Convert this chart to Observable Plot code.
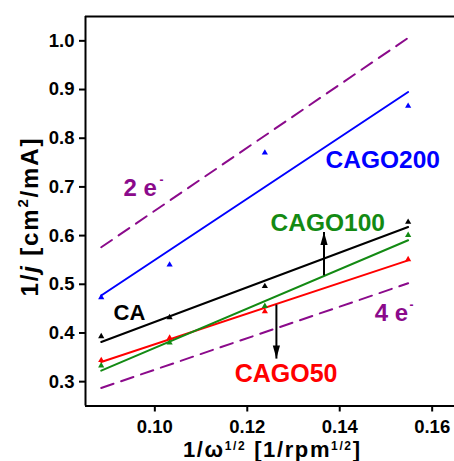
<!DOCTYPE html>
<html>
<head>
<meta charset="utf-8">
<script src="https://cdn.jsdelivr.net/npm/d3@7"></script>
<script src="https://cdn.jsdelivr.net/npm/@observablehq/plot@0.6"></script>
<style>
  html, body { margin: 0; padding: 0; background: #fff; }
  svg { display: block; }
</style>
</head>
<body>
<div id="chart"></div>
<script>
// ---- data ----
const xDomain = [0.085, 0.16483];
const yDomain = [0.25, 1.05];
const xTicks = [0.10, 0.12, 0.14, 0.16];
const yTicks = [0.3, 0.4, 0.5, 0.6, 0.7, 0.8, 0.9, 1.0];

const pointX = [0.0884, 0.1032, 0.1238, 0.1548];
const caY      = [0.393, 0.432, 0.496, 0.628];
const cago50Y  = [0.344, 0.390, 0.444, 0.551];
const cago100Y = [0.333, 0.380, 0.455, 0.601];
const cago200Y = [0.473, 0.540, 0.770, 0.866];

const fitX = [0.0884, 0.1548];
const caFit      = [0.3815, 0.6177];
const cago50Fit  = [0.3405, 0.549];
const cago100Fit = [0.3225, 0.5904];
const cago200Fit = [0.477, 0.895];
const twoEFit    = [0.576, 1.006];
const fourEFit   = [0.287, 0.502];

const seriesNames  = ["CA", "CAGO50", "CAGO100", "CAGO200"];
const seriesColors = ["#000000", "#ff0000", "#138a13", "#0000ff"];
const seriesPoints = [caY, cago50Y, cago100Y, cago200Y];
const seriesFits   = [caFit, cago50Fit, cago100Fit, cago200Fit];

// labels (data coords)
const labelText  = ["CA", "CAGO50", "CAGO100", "CAGO200"];
const labelX     = [0.0945, 0.1284, 0.1374, 0.1493];
const labelY     = [0.4414, 0.3161, 0.6253, 0.7557];
const labelSize  = [22, 25, 24.5, 24.5];

const eText = ["2 e", "4 e"];
const eX    = [0.09322, 0.14755];
const eY    = [0.6962, 0.4394];
const eSupX = [0.1010, 0.1551];
const eSupY = [0.7135, 0.4567];

// arrows
const arrowX    = [0.1366, 0.1263];
const arrowFrom = [0.5185, 0.4583];
const arrowTo   = [0.6074, 0.3474];
const arrowRot  = [0, 180];

const purple = "#8b0a8b";
const font = "'Liberation Sans', Arial, sans-serif";

// ---- build ----
const pts = [], fits = [];
seriesNames.forEach((s, i) => {
  pointX.forEach((x, j) => pts.push({s, x, y: seriesPoints[i][j]}));
  fitX.forEach((x, j) => fits.push({s, x, y: seriesFits[i][j]}));
});
const dashed = [];
fitX.forEach((x, j) => { dashed.push({s: "2e", x, y: twoEFit[j]}); dashed.push({s: "4e", x, y: fourEFit[j]}); });

const labels = labelText.map((t, i) => ({t, x: labelX[i], y: labelY[i], size: labelSize[i], c: seriesColors[i]}));
const eLabels = eText.map((t, i) => ({t, x: eX[i], y: eY[i], sx: eSupX[i], sy: eSupY[i]}));
const arrows = arrowX.map((x, i) => ({x, y1: arrowFrom[i], y2: arrowTo[i], rot: arrowRot[i]}));

const head = {draw(ctx) { ctx.moveTo(0, 0); ctx.lineTo(3.6, 13); ctx.lineTo(-3.6, 13); ctx.closePath(); }};

const colorOf = Object.fromEntries(seriesNames.map((s, i) => [s, seriesColors[i]]));

const plot = Plot.plot({
  width: 454,
  height: 461,
  marginLeft: 85,
  marginRight: 0,
  marginTop: 16,
  marginBottom: 55.5,
  style: {fontFamily: font, fontWeight: "bold", background: "white", overflow: "visible"},
  x: {domain: xDomain},
  y: {domain: yDomain},
  marks: [
    Plot.axisX({ticks: xTicks, tickFormat: d3.format(".2f"), tickSize: 6, tickPadding: 8, strokeWidth: 2, fontSize: 18.5, fontWeight: "bold", fill: "#000", label: null}),
    Plot.axisY({ticks: yTicks, tickFormat: d3.format(".1f"), tickSize: 6, tickPadding: 5, strokeWidth: 2, fontSize: 18.5, fontWeight: "bold", fill: "#000", label: null}),
    Plot.ruleY([yDomain[1]], {strokeWidth: 2}),
    Plot.ruleY([yDomain[0]], {strokeWidth: 2}),
    Plot.ruleX([xDomain[0]], {strokeWidth: 2}),
    Plot.line(dashed, {x: "x", y: "y", z: "s", stroke: purple, strokeWidth: 2, strokeDasharray: "13,8"}),
    ...seriesNames.map(s => Plot.line(fits.filter(d => d.s === s), {x: "x", y: "y", stroke: colorOf[s], strokeWidth: 2})),
    ...seriesNames.map(s => Plot.dot(pts.filter(d => d.s === s), {x: "x", y: "y", symbol: "triangle", r: 2.3, fill: colorOf[s], stroke: "none"})),
    Plot.link(arrows, {x1: "x", x2: "x", y1: "y1", y2: "y2", stroke: "black", strokeWidth: 2}),
    Plot.dot(arrows, {x: "x", y: "y2", symbol: head, rotate: "rot", fill: "black", stroke: "none"}),
    ...labels.map(l => Plot.text([l], {x: "x", y: "y", text: "t", fill: l.c, fontSize: l.size, fontWeight: "bold", textAnchor: "middle", fontFamily: font})),
    Plot.text(eLabels, {x: "x", y: "y", text: "t", fill: purple, fontSize: 24, fontWeight: "bold", textAnchor: "start", fontFamily: font}),
    Plot.text(eLabels, {x: "sx", y: "sy", text: () => "-", fill: purple, fontSize: 12, fontWeight: "bold", textAnchor: "start", fontFamily: font})
  ]
});

const svg = d3.select(plot);
// y axis title
const yt = svg.append("text")
  .attr("transform", "translate(38,217.5) rotate(-90)")
  .attr("text-anchor", "middle")
  .attr("font-family", font).attr("font-weight", "bold").attr("font-size", 24)
  .attr("fill", "#000")
  .attr("textLength", 158).attr("lengthAdjust", "spacing");
yt.append("tspan").text("1/");
yt.append("tspan").attr("font-style", "italic").text("j");
yt.append("tspan").text(" [cm");
yt.append("tspan").attr("font-size", 15).attr("dy", -10).text("2");
yt.append("tspan").attr("dy", 10).text("/mA]");

// x axis title
const xt = svg.append("text")
  .attr("x", 271.5).attr("y", 456.5)
  .attr("text-anchor", "middle")
  .attr("font-family", font).attr("font-weight", "bold").attr("font-size", 22)
  .attr("fill", "#000")
  .attr("textLength", 177).attr("lengthAdjust", "spacing");
xt.append("tspan").text("1/\u03c9");
xt.append("tspan").attr("font-size", 12).attr("dy", -7).text("1/2");
xt.append("tspan").attr("dy", 7).text(" [1/rpm");
xt.append("tspan").attr("font-size", 12).attr("dy", -7).text("1/2");
xt.append("tspan").attr("dy", 7).text("]");

document.getElementById("chart").appendChild(plot);
</script>
</body>
</html>
